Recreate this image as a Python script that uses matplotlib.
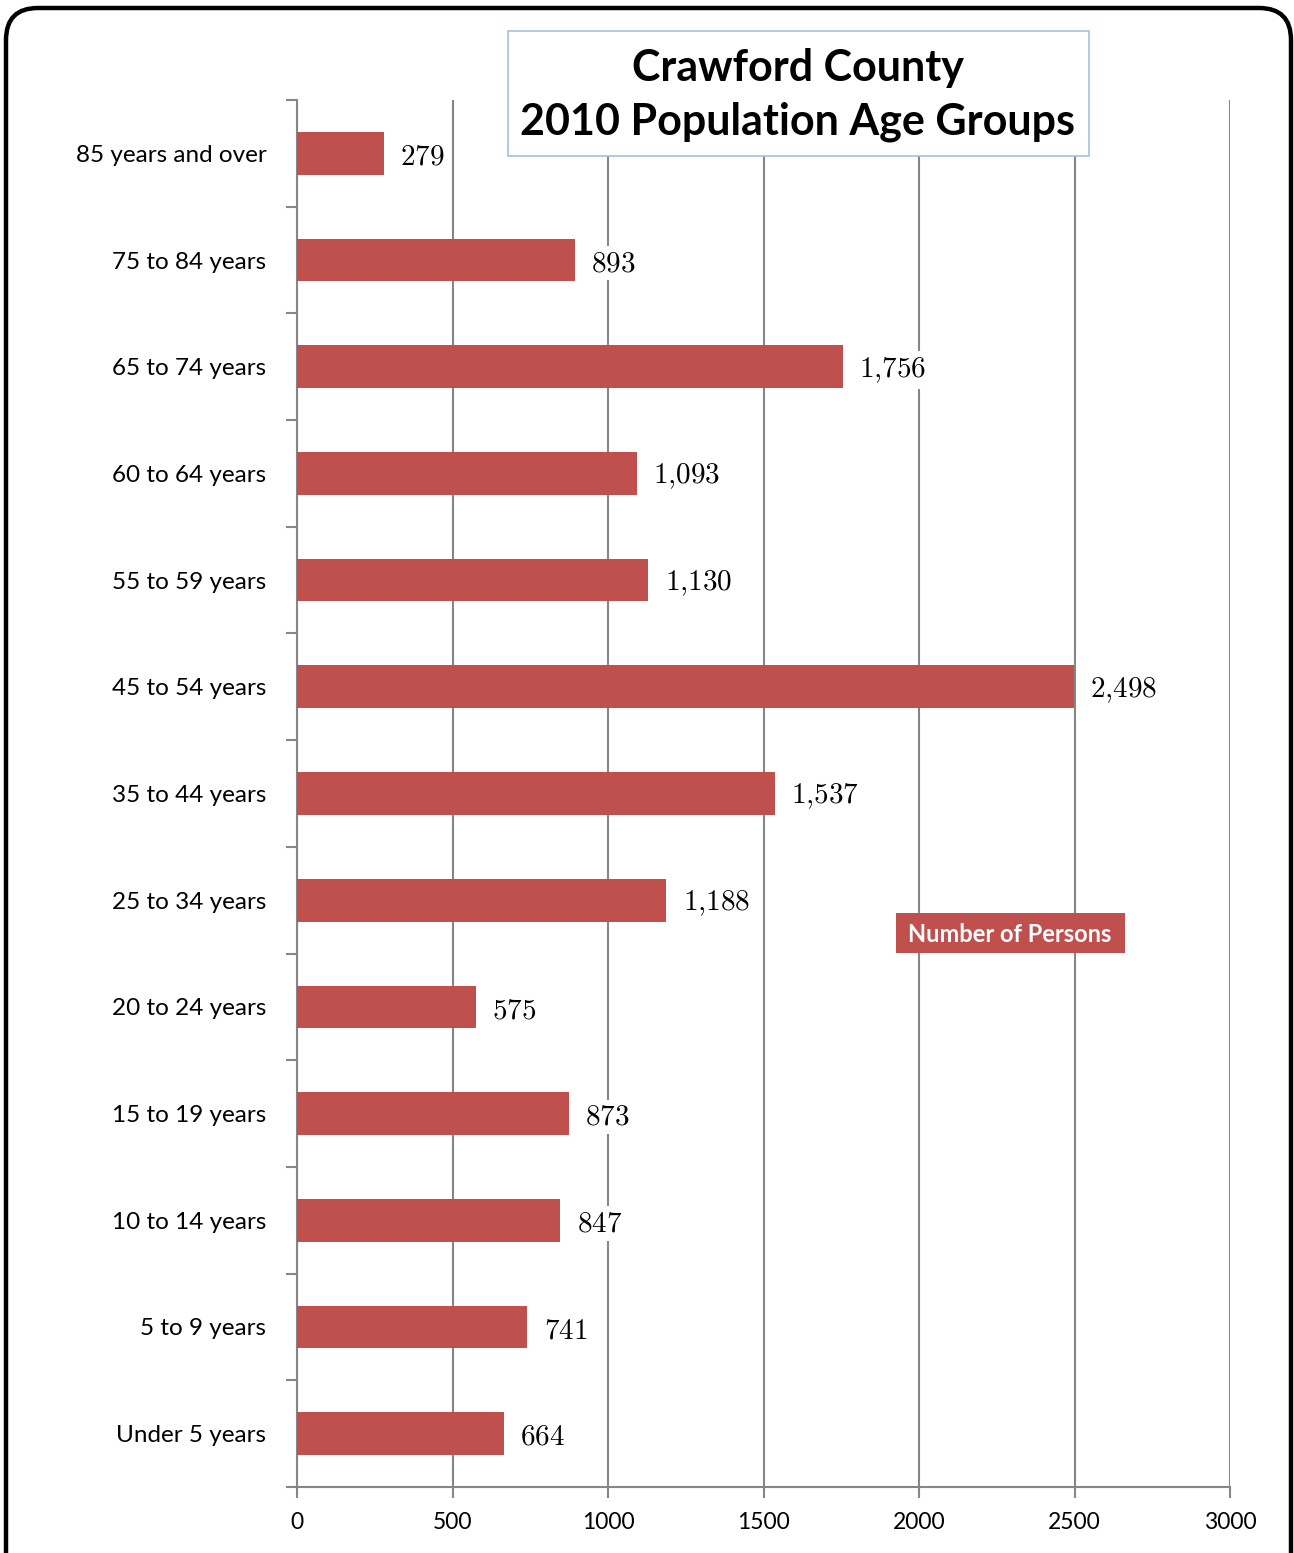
import matplotlib
matplotlib.use("Agg")
import matplotlib.pyplot as plt
from matplotlib.patches import FancyBboxPatch, Rectangle

plt.rcParams['font.family'] = ['Lato', 'DejaVu Sans']
plt.rcParams['mathtext.fontset'] = 'cm'

# data, bottom to top as drawn
age_groups = ["Under 5 years", "5 to 9 years", "10 to 14 years", "15 to 19 years",
              "20 to 24 years", "25 to 34 years", "35 to 44 years", "45 to 54 years",
              "55 to 59 years", "60 to 64 years", "65 to 74 years", "75 to 84 years",
              "85 years and over"]
persons = [664, 741, 847, 873, 575, 1188, 1537, 2498, 1130, 1093, 1756, 893, 279]
x_ticks = [0, 500, 1000, 1500, 2000, 2500, 3000]

bar_color = "#C0504D"
grey = "#868686"

W, H = 1294, 1553
fig = plt.figure(figsize=(W / 100, H / 100), dpi=100)

# rounded outer frame
frame = FancyBboxPatch((0.06, -0.5), 12.85, 15.95,
                       boxstyle="round,pad=0,rounding_size=0.32",
                       transform=fig.dpi_scale_trans, fill=False,
                       edgecolor="black", linewidth=3.2, zorder=0)
fig.patches.append(frame)

ax = fig.add_axes([297 / W, 1 - 1487 / H, 933 / W, 1387 / H])
pos = list(range(len(age_groups)))
ax.barh(pos, persons, height=0.4, color=bar_color, zorder=3)

ax.set_xlim(0, 3000)
ax.set_ylim(-0.5, len(age_groups) - 0.5)
ax.set_xticks(x_ticks)
ax.set_xticklabels([str(t) for t in x_ticks], fontsize=16.5)
ax.tick_params(axis='x', length=8, width=1.5, color=grey, pad=10)

# major y ticks at boundaries, labels at centres
ax.set_yticks([p - 0.5 for p in pos] + [len(age_groups) - 0.5])
ax.set_yticklabels([])
ax.set_yticks(pos, minor=True)
ax.set_yticklabels(age_groups, minor=True, fontsize=17.5)
ax.tick_params(axis='y', which='major', length=8, width=1.5, color=grey)
ax.tick_params(axis='y', which='minor', length=0, pad=22)

ax.grid(axis='x', color=grey, linewidth=1.5, zorder=1)
for s in ['top', 'right']:
    ax.spines[s].set_visible(False)
for s in ['left', 'bottom']:
    ax.spines[s].set_color(grey)
    ax.spines[s].set_linewidth(1.5)

for p, v in zip(pos, persons):
    lab = f"{v:,}".replace(",", "{,}")
    ax.text(v + 52, p - 0.03, r"$\mathrm{" + lab + "}$", va='center', ha='left',
            fontsize=21, zorder=4,
            bbox=dict(facecolor='white', edgecolor='none', pad=3))

# title box
fig.patches.append(Rectangle((508 / W, 1 - 156 / H), 581 / W, 125 / H,
                             transform=fig.transFigure, facecolor="white",
                             edgecolor="#A7BFDE", linewidth=1.2, zorder=5))
fig.text(798 / W, 1 - 95 / H, "Crawford County\n2010 Population Age Groups",
         ha='center', va='center', fontsize=31, fontweight='bold',
         linespacing=1.4, zorder=6)

# legend-like label
fig.patches.append(Rectangle((896 / W, 1 - 953 / H), 229 / W, 40 / H,
                             transform=fig.transFigure, facecolor=bar_color,
                             edgecolor="none", zorder=5))
fig.text(1010 / W, 1 - 934 / H, "Number of Persons", ha='center', va='center',
         fontsize=17, fontweight='bold', color='white', zorder=6)

fig.savefig("out.png", dpi=100)
